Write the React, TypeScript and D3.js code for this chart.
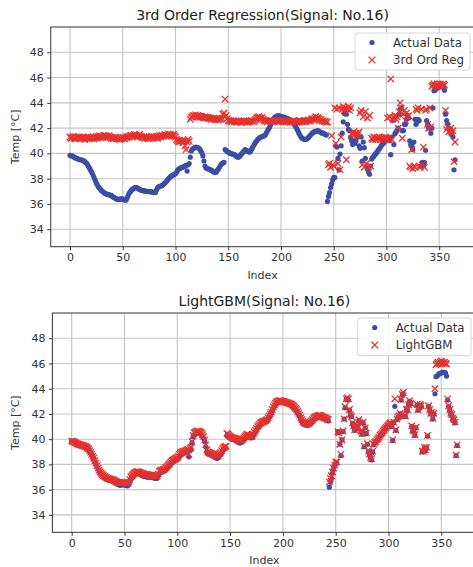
import React, { useEffect, useRef } from 'react';
import * as d3 from 'd3';

// measured temperature, one value per index
const actual = [
  39.85, 39.82, 39.8, 39.75, 39.7, 39.65, 39.6, 39.58, 39.55, 39.52,
  39.5, 39.48, 39.45, 39.42, 39.35, 39.28, 39.2, 39.05, 38.9, 38.75,
  38.6, 38.45, 38.25, 38.05, 37.85, 37.65, 37.5, 37.35, 37.25, 37.15,
  37.05, 36.98, 36.92, 36.85, 36.8, 36.78, 36.75, 36.72, 36.7, 36.68,
  36.62, 36.55, 36.5, 36.45, 36.4, 36.38, 36.35, 36.37, 36.4, 36.38,
  36.4, 36.35, 36.32, 36.3, 36.45, 36.65, 36.85, 36.95, 37.05, 37.15,
  37.2, 37.28, 37.3, 37.3, 37.25, 37.2, 37.15, 37.1, 37.08, 37.05,
  37.05, 37.0, 37.02, 37.0, 36.98, 37.0, 36.98, 36.95, 36.95, 36.9,
  36.92, 36.9, 37.1, 37.3, 37.35, 37.4, 37.42, 37.45, 37.5, 37.6,
  37.65, 37.75, 37.85, 37.95, 38.05, 38.15, 38.2, 38.25, 38.3, 38.35,
  38.4, 38.5, 38.65, 38.75, 38.8, 38.85, 38.9, 38.92, 38.95, 39.0,
  39.05, 38.6, 39.1, 39.2, 39.7, 40.2, 40.35, 40.4, 40.45, 40.5,
  40.48, 40.45, 40.42, 40.35, 40.2, 40.05, 39.8, 39.4, 39.0, 38.85,
  38.8, 38.78, 38.75, 38.7, 38.65, 38.6, 38.55, 38.5, 38.48, 38.55,
  38.7, 38.8, 38.95, 39.1, 39.2, 39.25, 39.3, 40.3, 40.25, 40.15,
  40.1, 40.05, 40.0, 39.98, 39.95, 39.93, 39.9, 39.82, 39.75, 39.7,
  39.72, 39.8, 39.9, 40.0, 40.1, 40.2, 40.3, 40.25, 40.2, 40.15,
  40.1, 40.15, 40.3, 40.45, 40.6, 40.75, 40.9, 41.0, 41.1, 41.2,
  41.25, 41.3, 41.32, 41.35, 41.4, 41.45, 41.6, 41.75, 41.9, 42.05,
  42.25, 42.45, 42.6, 42.75, 42.85, 42.9, 42.95, 42.97, 42.98, 42.95,
  42.92, 42.9, 42.88, 42.85, 42.82, 42.8, 42.75, 42.72, 42.7, 42.65,
  42.55, 42.45, 42.35, 42.25, 42.1, 41.95, 41.8, 41.6, 41.45, 41.3,
  41.2, 41.15, 41.12, 41.1, 41.12, 41.18, 41.25, 41.35, 41.45, 41.55,
  41.62, 41.68, 41.72, 41.75, 41.78, 41.8, 41.75, 41.7, 41.65, 41.6,
  41.6, 41.55, 41.5, 41.45, 36.2, 36.6, 36.9, 37.3, 37.6, 37.9,
  38.1, 38.1, 40.6, 40.5, 39.6, 38.7, 39.95, 40.6, 41.6, 42.5,
  43.15, 43.2, 43.1, 42.3, 41.9, 41.8, 41.25, 41.0, 40.7, 41.0,
  40.8, 41.0, 41.5, 41.3, 40.6, 40.4, 41.3, 39.4, 40.9, 40.45,
  39.6, 39.0, 38.75, 38.5, 38.35, 39.0, 39.55, 39.7, 39.75, 39.9,
  40.0, 40.1, 40.25, 40.35, 40.45, 40.6, 40.7, 40.8, 40.9, 41.0,
  41.1, 41.2, 41.25, 41.0, 39.9, 41.3, 42.6, 40.7, 41.55, 41.7,
  41.8, 42.0, 43.1, 43.5, 43.6, 41.8, 41.8, 42.3, 42.3, 42.7,
  43.0, 42.8, 41.0, 40.7, 40.6, 40.3, 40.9, 42.7, 42.3, 42.5,
  42.7, 42.6, 39.0, 39.0, 39.3, 39.1, 39.3, 40.25, 42.6, 42.3,
  42.0, 42.1, 41.6, 42.0, 43.6, 44.95, 45.0, 45.1, 45.2, 45.2,
  45.25, 45.3, 45.3, 45.3, 45.25, 45.0, 43.1, 42.6, 42.3, 42.0,
  41.9, 41.6, 41.5, 41.3, 38.7, 39.5,
];

// 3rd order regression prediction
const regPred = [
  41.3, 41.2, 41.25, 41.35, 41.2, 41.15, 41.3, 41.25, 41.2, 41.3,
  41.15, 41.25, 41.2, 41.3, 41.1, 41.25, 41.2, 41.3, 41.15, 41.2,
  41.25, 41.2, 41.3, 41.15, 41.25, 41.35, 41.2, 41.3, 41.4, 41.25,
  41.35, 41.3, 41.45, 41.3, 41.4, 41.35, 41.25, 41.4, 41.3, 41.2,
  41.25, 41.15, 41.2, 41.3, 41.15, 41.2, 41.25, 41.1, 41.2, 41.15,
  41.25, 41.2, 41.15, 41.3, 41.25, 41.35, 41.3, 41.4, 41.45, 41.35,
  41.4, 41.5, 41.35, 41.45, 41.3, 41.4, 41.5, 41.35, 41.3, 41.25,
  41.3, 41.2, 41.35, 41.25, 41.15, 41.3, 41.2, 41.25, 41.35, 41.2,
  41.3, 41.25, 41.35, 41.2, 41.3, 41.4, 41.3, 41.45, 41.35, 41.4,
  41.5, 41.4, 41.45, 41.55, 41.4, 41.5, 41.45, 41.35, 41.5, 41.4,
  41.3, 41.1, 41.0, 40.9, 41.05, 40.95, 41.0, 40.85, 41.0, 40.6,
  40.3, 40.9, 41.1, 40.95, 42.7, 42.85, 42.9, 43.0, 42.95, 43.05,
  42.9, 43.0, 42.95, 42.85, 42.95, 42.9, 42.85, 42.8, 42.9, 42.85,
  42.8, 42.85, 42.75, 42.8, 42.7, 42.75, 42.8, 42.7, 42.65, 42.75,
  42.7, 42.65, 42.75, 42.7, 42.8, 43.1, 43.2, 44.3, 43.0, 42.75,
  42.6, 42.55, 42.6, 42.5, 42.55, 42.6, 42.5, 42.55, 42.45, 42.5,
  42.55, 42.5, 42.45, 42.55, 42.5, 42.6, 42.5, 42.55, 42.45, 42.5,
  42.55, 42.5, 42.6, 42.55, 42.5, 42.6, 42.7, 42.8, 42.85, 42.9,
  42.8, 42.75, 42.85, 42.7, 42.6, 42.55, 42.6, 42.5, 42.55, 42.6,
  42.55, 42.6, 42.5, 42.55, 42.6, 42.65, 42.55, 42.6, 42.5, 42.55,
  42.6, 42.55, 42.5, 42.6, 42.55, 42.5, 42.6, 42.55, 42.5, 42.45,
  42.55, 42.5, 42.6, 42.55, 42.5, 42.45, 42.55, 42.5, 42.6, 42.55,
  42.5, 42.55, 42.6, 42.5, 42.55, 42.6, 42.65, 42.55, 42.6, 42.7,
  42.75, 42.65, 42.8, 42.9, 42.7, 42.85, 42.75, 42.6, 42.7, 42.55,
  42.6, 42.5, 42.55, 42.45, 42.5, 39.1, 39.2, 38.9, 41.4, 39.1,
  39.0, 43.6, 40.8, 43.5, 39.2, 43.6, 38.7, 41.3, 43.5, 43.7,
  43.4, 43.6, 39.5, 43.5, 43.7, 43.4, 43.6, 41.6, 41.5, 41.7,
  41.5, 41.6, 41.4, 41.55, 41.7, 43.2, 43.4, 39.1, 42.9, 38.9,
  43.3, 39.2, 42.8, 38.9, 43.0, 39.0, 41.2, 41.1, 41.3, 41.2,
  41.1, 41.25, 41.15, 41.3, 41.1, 41.2, 41.25, 41.1, 41.2, 41.3,
  41.15, 42.8, 41.2, 42.9, 45.9, 41.1, 42.7, 42.85, 43.0, 42.7,
  42.9, 42.0, 43.3, 44.0, 43.6, 41.2, 43.1, 43.4, 42.6, 43.2,
  42.9, 43.0, 39.0, 38.9, 40.3, 38.8, 39.0, 38.9, 43.5, 43.4,
  43.6, 39.0, 38.9, 43.5, 39.1, 40.5, 38.9, 43.4, 43.5, 42.3,
  42.0, 43.6, 42.1, 45.3, 45.4, 45.5, 45.3, 45.4, 45.5, 45.4,
  45.3, 45.5, 45.4, 45.3, 45.5, 45.4, 43.4, 41.9, 42.1, 41.7,
  41.8, 42.0, 41.6, 41.8, 39.35, 40.9,
];

// LightGBM prediction
const lgbmPred = [
  39.85, 39.8, 39.8, 39.72, 39.7, 39.65, 39.62, 39.58, 39.55, 39.55,
  39.5, 39.5, 39.45, 39.42, 39.38, 39.3, 39.22, 39.1, 38.95, 38.8,
  38.65, 38.5, 38.3, 38.1, 37.9, 37.7, 37.55, 37.42, 37.3, 37.2,
  37.12, 37.05, 37.0, 36.95, 36.9, 36.88, 36.85, 36.82, 36.8, 36.78,
  36.75, 36.7, 36.65, 36.6, 36.58, 36.55, 36.55, 36.55, 36.58, 36.55,
  36.58, 36.55, 36.52, 36.5, 36.6, 36.8, 37.0, 37.1, 37.2, 37.3,
  37.35, 37.4, 37.42, 37.42, 37.38, 37.35, 37.3, 37.28, 37.25, 37.22,
  37.2, 37.18, 37.2, 37.15, 37.15, 37.15, 37.12, 37.1, 37.1, 37.08,
  37.1, 37.08, 37.25, 37.45, 37.5, 37.55, 37.55, 37.6, 37.65, 37.75,
  37.8, 37.9, 38.0, 38.1, 38.2, 38.3, 38.35, 38.4, 38.45, 38.5,
  38.55, 38.65, 38.8, 38.9, 38.95, 39.0, 39.05, 39.05, 39.1, 39.15,
  39.2, 38.8, 39.25, 39.35, 39.8, 40.3, 40.5, 40.55, 40.6, 40.65,
  40.62, 40.6, 40.55, 40.5, 40.35, 40.2, 39.95, 39.55, 39.15, 39.0,
  38.95, 38.92, 38.9, 38.85, 38.8, 38.78, 38.72, 38.7, 38.68, 38.72,
  38.85, 38.95, 39.1, 39.25, 39.35, 39.4, 39.45, 40.45, 40.4, 40.3,
  40.22, 40.18, 40.12, 40.1, 40.08, 40.05, 40.02, 39.95, 39.88, 39.85,
  39.85, 39.92, 40.0, 40.1, 40.2, 40.3, 40.4, 40.35, 40.3, 40.25,
  40.2, 40.25, 40.4, 40.55, 40.7, 40.85, 41.0, 41.1, 41.2, 41.3,
  41.35, 41.4, 41.42, 41.45, 41.5, 41.55, 41.7, 41.85, 42.0, 42.15,
  42.35, 42.55, 42.7, 42.85, 42.95, 43.0, 43.05, 43.05, 43.05, 43.02,
  43.0, 42.98, 42.95, 42.92, 42.9, 42.88, 42.85, 42.8, 42.78, 42.72,
  42.65, 42.55, 42.45, 42.35, 42.2, 42.05, 41.9, 41.7, 41.55, 41.4,
  41.3, 41.25, 41.22, 41.2, 41.22, 41.28, 41.35, 41.45, 41.55, 41.65,
  41.72, 41.78, 41.82, 41.85, 41.88, 41.9, 41.85, 41.8, 41.75, 41.7,
  41.7, 41.65, 41.6, 41.55, 36.6, 36.9, 37.1, 37.4, 37.7, 37.95,
  38.2, 38.2, 40.6, 40.5, 39.6, 38.8, 39.95, 40.65, 41.6, 42.6,
  43.2, 43.3, 43.2, 42.35, 41.95, 41.8, 41.3, 41.05, 40.75, 41.0,
  40.85, 41.05, 41.55, 41.3, 40.65, 40.45, 41.35, 39.45, 40.9, 40.5,
  39.65, 39.05, 38.8, 38.55, 38.45, 39.05, 39.6, 39.75, 39.8, 39.95,
  40.05, 40.15, 40.3, 40.4, 40.5, 40.65, 40.75, 40.85, 40.95, 41.05,
  41.15, 41.25, 41.3, 41.05, 39.95, 41.35, 43.2, 40.75, 41.6, 41.75,
  41.85, 42.05, 43.15, 43.55, 43.7, 41.85, 41.85, 42.35, 42.35, 42.75,
  43.05, 42.85, 41.05, 40.75, 40.65, 40.35, 40.95, 42.75, 42.35, 42.55,
  42.75, 42.65, 39.05, 39.05, 39.35, 39.15, 39.35, 40.3, 42.65, 42.35,
  42.05, 42.15, 41.65, 42.05, 44.0, 45.9, 46.0, 46.1, 46.0, 46.1,
  46.2, 46.1, 46.0, 46.1, 46.0, 45.95, 43.2, 42.65, 42.35, 42.05,
  41.95, 41.65, 41.55, 41.35, 38.75, 39.55,
];

const xTicks = [0, 50, 100, 150, 200, 250, 300, 350];
const yTicks = [34, 36, 38, 40, 42, 44, 46, 48];
const yLimits = [32.62, 50.0];

const BLUE = '#3a4ea5';
const RED = '#e8302c';
const FONT = "'DejaVu Sans', sans-serif";

const panels = [
  {
    title: '3rd Order Regression(Signal: No.16)', pred: regPred, predLabel: '3rd Ord Reg',
    left: 50.75, right: 474.3, top: 27, bottom: 246.7,
    legend: { x: 355, y: 33, w: 115, h: 37 },
  },
  {
    title: 'LightGBM(Signal: No.16)', pred: lgbmPred, predLabel: 'LightGBM',
    left: 52.4, right: 476.4, top: 313, bottom: 532.3,
    legend: { x: 357.7, y: 318, w: 113.3, h: 37.7 },
  },
];

const App = () => {
  const svgRef = useRef<SVGSVGElement>(null);

  useEffect(() => {
    if (!svgRef.current) return;
    const svg = d3.select(svgRef.current);
    svg.selectAll('*').remove();

    const n = actual.length;
    const pad = (n - 1) * 0.05;

    panels.forEach((p) => {
      const x = d3.scaleLinear().domain([-pad, n - 1 + pad]).range([p.left, p.right]);
      const y = d3.scaleLinear().domain(yLimits).range([p.bottom, p.top]);
      const g = svg.append('g');

      // grid
      g.selectAll('.vg').data(xTicks).enter().append('line')
        .attr('x1', (d) => x(d)).attr('x2', (d) => x(d))
        .attr('y1', p.top).attr('y2', p.bottom)
        .attr('stroke', '#c4c4c4').attr('stroke-width', 1.1);
      g.selectAll('.hg').data(yTicks).enter().append('line')
        .attr('x1', p.left).attr('x2', p.right)
        .attr('y1', (d) => y(d)).attr('y2', (d) => y(d))
        .attr('stroke', '#c4c4c4').attr('stroke-width', 1.1);

      // points
      const idx = d3.range(n);
      g.selectAll('.pt').data(idx).enter().append('circle')
        .attr('cx', (i) => x(i)).attr('cy', (i) => y(actual[i]))
        .attr('r', 2.6).attr('fill', BLUE);
      const s = 3.2;
      g.selectAll('.xm').data(idx).enter().append('path')
        .attr('d', (i) => {
          const cx = x(i), cy = y(p.pred[i]);
          return `M${cx - s},${cy - s}L${cx + s},${cy + s}M${cx - s},${cy + s}L${cx + s},${cy - s}`;
        })
        .attr('stroke', RED).attr('stroke-width', 1.3).attr('fill', 'none');

      // frame
      g.append('rect')
        .attr('x', p.left).attr('y', p.top)
        .attr('width', p.right - p.left).attr('height', p.bottom - p.top)
        .attr('fill', 'none').attr('stroke', '#333').attr('stroke-width', 1);

      // axes
      const xAxis = g.append('g').attr('transform', `translate(0,${p.bottom})`)
        .call(d3.axisBottom(x).tickValues(xTicks).tickSize(3.5).tickPadding(3.5).tickFormat(d3.format('d')));
      const yAxis = g.append('g').attr('transform', `translate(${p.left},0)`)
        .call(d3.axisLeft(y).tickValues(yTicks).tickSize(3.5).tickPadding(3.5).tickFormat(d3.format('d')));
      [xAxis, yAxis].forEach((a) => {
        a.select('.domain').remove();
        a.selectAll('line').attr('stroke', '#333');
        a.selectAll('text').attr('fill', '#333').attr('font-size', 11).attr('font-family', FONT);
      });

      // titles
      const cx = (p.left + p.right) / 2;
      svg.append('text')
        .attr('x', cx).attr('y', p.top - 7)
        .attr('text-anchor', 'middle')
        .attr('font-family', FONT).attr('font-size', 14).attr('fill', '#222')
        .text(p.title);
      svg.append('text')
        .attr('x', cx).attr('y', p.bottom + 32)
        .attr('text-anchor', 'middle')
        .attr('font-family', FONT).attr('font-size', 11).attr('fill', '#333')
        .text('Index');
      svg.append('text')
        .attr('transform', `translate(19,${(p.top + p.bottom) / 2}) rotate(-90)`)
        .attr('text-anchor', 'middle')
        .attr('font-family', FONT).attr('font-size', 11).attr('fill', '#333')
        .text('Temp [°C]');

      // legend
      const L = p.legend;
      const lg = svg.append('g');
      lg.append('rect')
        .attr('x', L.x).attr('y', L.y).attr('width', L.w).attr('height', L.h)
        .attr('rx', 2.5).attr('fill', 'rgba(255,255,255,0.85)')
        .attr('stroke', '#d6d6d6').attr('stroke-width', 1);
      const mx = L.x + 17;
      const r1 = L.y + 9.5;
      const r2 = L.y + 27;
      lg.append('circle').attr('cx', mx).attr('cy', r1).attr('r', 2.6).attr('fill', BLUE);
      lg.append('path')
        .attr('d', `M${mx - 3.4},${r2 - 3.4}L${mx + 3.4},${r2 + 3.4}M${mx - 3.4},${r2 + 3.4}L${mx + 3.4},${r2 - 3.4}`)
        .attr('stroke', RED).attr('stroke-width', 1.3);
      [['Actual Data', r1], [p.predLabel, r2]].forEach(([t, yy]) => {
        lg.append('text')
          .attr('x', L.x + 38).attr('y', yy as number).attr('dy', '0.35em')
          .attr('font-family', FONT).attr('font-size', 11.8).attr('fill', '#333')
          .text(t as string);
      });
    });
  }, []);

  return (
    <svg
      ref={svgRef}
      width={473}
      height={567}
      style={{ position: 'absolute', left: 0, top: 0, background: '#fff' }}
    />
  );
};

export default App;
